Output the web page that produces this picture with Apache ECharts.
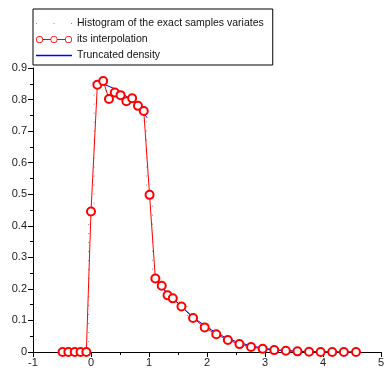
<!DOCTYPE html>
<html>
<head>
<meta charset="utf-8">
<script src="https://cdn.jsdelivr.net/npm/echarts@6/dist/echarts.min.js"></script>
<style>
  html, body { margin: 0; padding: 0; background: #fff; }
  #chart { width: 387px; height: 372px; }
</style>
</head>
<body>
<div id="chart"></div>
<script>
// bin centres and heights
const binX = [-0.49, -0.39, -0.28, -0.18, -0.08, 0.0, 0.11, 0.21, 0.31, 0.41,
  0.51, 0.61, 0.71, 0.81, 0.91, 1.01, 1.11, 1.22, 1.32, 1.41, 1.56, 1.76, 1.96,
  2.16, 2.36, 2.56, 2.76, 2.96, 3.16, 3.36, 3.56, 3.76, 3.96, 4.16, 4.36, 4.57];
const interpY = [0, 0, 0, 0, 0, 0.445, 0.847, 0.859, 0.802, 0.822,
  0.814, 0.795, 0.804, 0.78, 0.764, 0.498, 0.233, 0.21, 0.18, 0.17, 0.144, 0.108, 0.078,
  0.056, 0.038, 0.025, 0.016, 0.01, 0.006, 0.004, 0.002, 0.001, 0, 0, 0, 0];
const histY = interpY;

// truncated density, null splits the two pieces
const densityX = [0.03, 0.2, 0.4, 0.6, 0.8, 0.97, null, 1.1, 1.3, 1.5, 1.75, 2.0,
  2.25, 2.5, 2.75, 3.0, 3.25, 3.5, 3.75, 4.0, 4.3, 4.6];
const densityY = [0.853, 0.85, 0.835, 0.812, 0.782, 0.742, null, 0.233, 0.19, 0.155,
  0.112, 0.078, 0.052, 0.033, 0.02, 0.011, 0.006, 0.003, 0.0015, 0.0007, 0.0002, 0];

const seriesNames = [
  "Histogram of the exact samples variates",
  "its interpolation",
  "Truncated density",
];

const xTicks = { min: -1, max: 5, step: 1 };
const yTicks = { min: 0, max: 0.9, step: 0.1 };

const font = "'Liberation Sans', Arial, sans-serif";
const legendFont = "'Liberation Sans Narrow', 'Arial Narrow', 'Liberation Sans', sans-serif";

// legend icons: dotted line, line with three rings, plain line
function ring(cx) {
  return `M${cx + 3.5} 4A3.5 3.5 0 1 1 ${cx - 3.5} 4A3.5 3.5 0 1 1 ${cx + 3.5} 4Z` +
    `M${cx + 2.7} 4A2.7 2.7 0 1 0 ${cx - 2.7} 4A2.7 2.7 0 1 0 ${cx + 2.7} 4Z`;
}
const iconRings = "path://" + ring(3.5) + ring(18) + ring(32.5) +
  "M7 3.5L14.5 3.5L14.5 4.5L7 4.5Z M21.5 3.5L29 3.5L29 4.5L21.5 4.5Z";
const iconDots = "path://M0 0L1 0L1 1L0 1Z M17.5 0L18.5 0L18.5 1L17.5 1Z M35 0L36 0L36 1L35 1Z";
const iconLine = "path://M0 0L36 0L36 1.3L0 1.3Z";

const chart = echarts.init(document.getElementById("chart"));

const pairs = (xs, ys) => xs.map((x, i) => (x === null ? [null, null] : [x, ys[i]]));

chart.setOption({
  animation: false,
  textStyle: { fontFamily: font },
  grid: { left: 33, right: 3, top: 68, bottom: 20 },
  legend: {
    left: 33,
    top: 9,
    orient: "vertical",
    borderColor: "#000",
    borderWidth: 1,
    borderRadius: 0,
    padding: [9, 9, 4, 3],
    itemWidth: 36,
    itemHeight: 12,
    itemGap: 5,
    textStyle: { fontSize: 10.5, color: "#111", fontFamily: legendFont },
    data: [
      { name: seriesNames[0], icon: iconDots, itemStyle: { color: "#8a8a8a", borderWidth: 0 } },
      { name: seriesNames[1], icon: iconRings, itemStyle: { color: "#ff0000", borderWidth: 0 } },
      { name: seriesNames[2], icon: iconLine, itemStyle: { color: "#0000ff", borderWidth: 0 } },
    ],
  },
  xAxis: {
    type: "value",
    min: xTicks.min,
    max: xTicks.max,
    interval: xTicks.step,
    axisLine: { onZero: false, lineStyle: { color: "#000", width: 1 } },
    axisTick: { length: 5, lineStyle: { color: "#000" } },
    minorTick: { show: true, splitNumber: 2, length: 3, lineStyle: { color: "#000" } },
    splitLine: { show: false },
    axisLabel: { fontSize: 11, color: "#222", margin: 5, fontFamily: font },
  },
  yAxis: {
    type: "value",
    min: yTicks.min,
    max: yTicks.max,
    interval: yTicks.step,
    axisLine: { show: true, onZero: false, lineStyle: { color: "#000", width: 1 } },
    axisTick: { show: true, length: 5, lineStyle: { color: "#000" } },
    minorTick: { show: true, splitNumber: 2, length: 3, lineStyle: { color: "#000" } },
    splitLine: { show: false },
    axisLabel: {
      fontSize: 11,
      color: "#222",
      margin: 6,
      fontFamily: font,
      formatter: (v) => (Math.abs(v) < 1e-9 ? "0" : v.toFixed(1)),
    },
  },
  series: [
    {
      name: seriesNames[0],
      type: "line",
      step: "middle",
      showSymbol: false,
      symbol: "none",
      data: pairs(binX, histY),
      lineStyle: { color: "#8a8a8a", width: 1, type: [1, 8] },
      itemStyle: { color: "#8a8a8a" },
    },
    {
      name: seriesNames[1],
      type: "line",
      symbol: "emptyCircle",
      symbolSize: 8,
      data: pairs(binX, interpY),
      lineStyle: { color: "#ff0000", width: 1 },
      itemStyle: { color: "#ff0000", borderColor: "#ff2a2a", borderWidth: 0.7 },
    },
    {
      name: seriesNames[2],
      type: "line",
      symbol: "none",
      connectNulls: false,
      data: pairs(densityX, densityY),
      lineStyle: { color: "#0000ff", width: 1 },
      itemStyle: { color: "#0000ff" },
    },
  ],
});
</script>
</body>
</html>
